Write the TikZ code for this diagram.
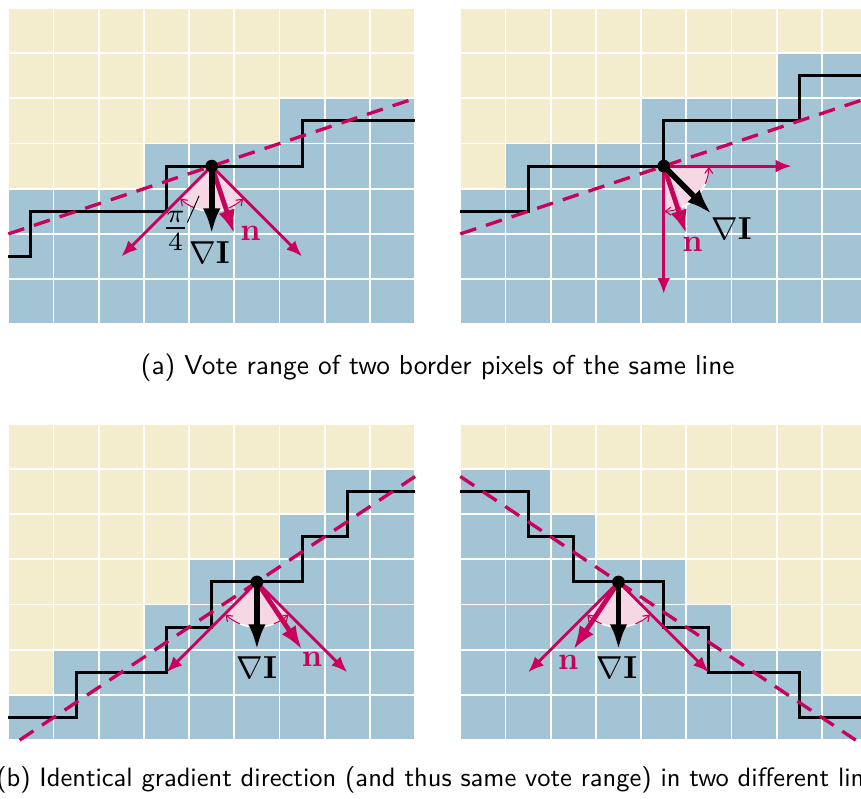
\documentclass[tikz,border=0pt]{standalone}
\usetikzlibrary{arrows.meta,calc}
\definecolor{beige}{RGB}{244,237,205}
\definecolor{pblue}{RGB}{162,196,212}
\definecolor{mag}{RGB}{200,0,90}
\definecolor{fanpink}{RGB}{245,216,227}
\tikzset{
 gridl/.style={draw=white, line width=1.2pt},
 stair/.style={draw=black, line width=1.9pt},
 edgeln/.style={draw=mag, line width=2.1pt, dash pattern=on 10.5pt off 6.5pt},
 vote/.style={draw=mag, line width=1.8pt, -{Latex[length=10pt,width=8pt]}},
 nvec/.style={draw=mag, line width=3pt, -{Latex[length=15pt,width=10.5pt]}},
 gvec/.style={draw=black, line width=3.6pt, -{Latex[length=16pt,width=11pt]}},
 fanfill/.style={fill=fanpink},
 fanarc/.style={draw=white, line width=0.9pt},
 fantip/.style={draw=mag, line width=0.7pt, -{Straight Barb[length=3.5pt,width=5pt]}},
 dotn/.style={circle, fill=black, inner sep=0pt, minimum size=0.28cm},
 lab/.style={scale=2.0, inner sep=0pt},
 fraclab/.style={scale=2.35, inner sep=0pt},
 captxt/.style={scale=1.72, font=\sffamily, inner sep=0pt},
 captxtb/.style={scale=1.67, font=\sffamily, inner sep=0pt},
 leader/.style={draw=black, line width=0.6pt},
}
\newcommand{\votefan}[2]{%
  \fill[fanfill] (#1) -- ($(#1)+(#2-45:1)$) arc[start angle=#2-45, end angle=#2+45, radius=1cm] -- cycle;
  \draw[fanarc] ($(#1)+(#2-45:1)$) arc[start angle=#2-45, end angle=#2+45, radius=1cm];
  \draw[fantip] ($(#1)+(#2-22:1)$) arc[start angle=#2-22, end angle=#2-44, radius=1cm];
  \draw[fantip] ($(#1)+(#2+22:1)$) arc[start angle=#2+22, end angle=#2+44, radius=1cm];
}
\begin{document}
\begin{tikzpicture}
\useasboundingbox (-0.184,-10.502) rectangle (18.865,7.175);
\clip (-0.184,-10.502) rectangle (18.865,7.175);

% ---------- (a) left ----------
\begin{scope}
\fill[pblue] (0,0) rectangle (9,7);
\fill[beige] (0,7) -- (9,7) -- (9,5) -- (6,5) -- (6,4) -- (3,4) -- (3,3) -- (0,3) -- cycle;
\draw[gridl] (0,0) grid (9,7);
\draw[stair] (0,1.5) -- (0.5,1.5) -- (0.5,2.5) -- (3.5,2.5) -- (3.5,3.5) -- (6.5,3.5) -- (6.5,4.5) -- (9,4.5);
\coordinate (aLe1) at (0,2); \coordinate (aLe2) at (9,5);
\draw[edgeln] (aLe1) -- (aLe2);
\coordinate (aLd) at (4.5,3.5);
\votefan{aLd}{-90}
\coordinate (aLv1) at ($(aLd)+(-2,-2)$);
\coordinate (aLv2) at ($(aLd)+(2,-2)$);
\coordinate (aLn) at ($(aLd)+(0.5,-1.5)$);
\coordinate (aLg) at ($(aLd)+(0,-1.5)$);
\draw[vote] (aLd) -- (aLv1);
\draw[vote] (aLd) -- (aLv2);
\draw[nvec] (aLd) -- (aLn);
\draw[gvec] (aLd) -- (aLg);
\node[dotn] (aLdot) at (aLd) {};
\node[lab] (aLgl) at (4.45,1.59) {$\nabla\mathbf{I}$};
\node[lab, text=mag] (aLnl) at (5.36,2.01) {$\mathbf{n}$};
\node[fraclab] (aLpi) at (3.70,2.07) {$\frac{\pi}{4}$};
\coordinate (aLl1) at (4.22,2.84); \coordinate (aLl2) at (3.96,2.25);
\draw[leader] (aLl1) -- (aLl2);
\end{scope}

% ---------- (a) right ----------
\begin{scope}[shift={(10,0)}]
\fill[pblue] (0,0) rectangle (9,7);
\fill[beige] (0,7) -- (9,7) -- (9,6) -- (7,6) -- (7,5) -- (4,5) -- (4,4) -- (1,4) -- (1,3) -- (0,3) -- cycle;
\draw[gridl] (0,0) grid (9,7);
\draw[stair] (0,2.5) -- (1.5,2.5) -- (1.5,3.5) -- (4.5,3.5) -- (4.5,4.5) -- (7.5,4.5) -- (7.5,5.5) -- (9,5.5);
\coordinate (aRe1) at (0,2); \coordinate (aRe2) at (9,5);
\draw[edgeln] (aRe1) -- (aRe2);
\coordinate (aRd) at (4.5,3.5);
\votefan{aRd}{-45}
\coordinate (aRv1) at ($(aRd)+(2.83,0)$);
\coordinate (aRv2) at ($(aRd)+(0,-2.83)$);
\coordinate (aRn) at ($(aRd)+(0.5,-1.5)$);
\coordinate (aRg) at ($(aRd)+(1.06,-1.06)$);
\draw[vote] (aRd) -- (aRv1);
\draw[vote] (aRd) -- (aRv2);
\draw[nvec] (aRd) -- (aRn);
\draw[gvec] (aRd) -- (aRg);
\node[dotn] (aRdot) at (aRd) {};
\node[lab] (aRgl) at (6.0,2.11) {$\nabla\mathbf{I}$};
\node[lab, text=mag] (aRnl) at (5.14,1.76) {$\mathbf{n}$};
\end{scope}

\node[captxt] (capa) at (9.5,-0.967) {(a) Vote range of two border pixels of the same line};

% ---------- (b) left ----------
\begin{scope}[shift={(0,-9.2)}]
\fill[pblue] (0,0) rectangle (9,7);
\fill[beige] (0,7) -- (9,7) -- (9,6) -- (7,6) -- (7,5) -- (6,5) -- (6,4) -- (4,4) -- (4,3) -- (3,3) -- (3,2) -- (1,2) -- (1,1) -- (0,1) -- cycle;
\draw[gridl] (0,0) grid (9,7);
\draw[stair] (0,0.5) -- (1.5,0.5) -- (1.5,1.5) -- (3.5,1.5) -- (3.5,2.5) -- (4.5,2.5) -- (4.5,3.5) -- (6.5,3.5) -- (6.5,4.5) -- (7.5,4.5) -- (7.5,5.5) -- (9,5.5);
\coordinate (bLe1) at (0.25,0); \coordinate (bLe2) at (9,5.833);
\draw[edgeln] (bLe1) -- (bLe2);
\coordinate (bLd) at (5.5,3.5);
\votefan{bLd}{-90}
\coordinate (bLv1) at ($(bLd)+(-2,-2)$);
\coordinate (bLv2) at ($(bLd)+(2,-2)$);
\coordinate (bLn) at ($(bLd)+(1,-1.5)$);
\coordinate (bLg) at ($(bLd)+(0,-1.5)$);
\draw[vote] (bLd) -- (bLv1);
\draw[vote] (bLd) -- (bLv2);
\draw[nvec] (bLd) -- (bLn);
\draw[gvec] (bLd) -- (bLg);
\node[dotn] (bLdot) at (bLd) {};
\node[lab] (bLgl) at (5.5,1.60) {$\nabla\mathbf{I}$};
\node[lab, text=mag] (bLnl) at (6.72,1.79) {$\mathbf{n}$};
\end{scope}

% ---------- (b) right ----------
\begin{scope}[shift={(10,-9.2)}]
\fill[pblue] (0,0) rectangle (9,7);
\fill[beige] (0,7) -- (9,7) -- (9,1) -- (8,1) -- (8,2) -- (6,2) -- (6,3) -- (5,3) -- (5,4) -- (3,4) -- (3,5) -- (2,5) -- (2,6) -- (0,6) -- cycle;
\draw[gridl] (0,0) grid (9,7);
\draw[stair] (0,5.5) -- (1.5,5.5) -- (1.5,4.5) -- (2.5,4.5) -- (2.5,3.5) -- (4.5,3.5) -- (4.5,2.5) -- (5.5,2.5) -- (5.5,1.5) -- (7.5,1.5) -- (7.5,0.5) -- (9,0.5);
\coordinate (bRe1) at (0,5.833); \coordinate (bRe2) at (8.75,0);
\draw[edgeln] (bRe1) -- (bRe2);
\coordinate (bRd) at (3.5,3.5);
\votefan{bRd}{-90}
\coordinate (bRv1) at ($(bRd)+(-2,-2)$);
\coordinate (bRv2) at ($(bRd)+(2,-2)$);
\coordinate (bRn) at ($(bRd)+(-1,-1.5)$);
\coordinate (bRg) at ($(bRd)+(0,-1.5)$);
\draw[vote] (bRd) -- (bRv1);
\draw[vote] (bRd) -- (bRv2);
\draw[nvec] (bRd) -- (bRn);
\draw[gvec] (bRd) -- (bRg);
\node[dotn] (bRdot) at (bRd) {};
\node[lab] (bRgl) at (3.47,1.60) {$\nabla\mathbf{I}$};
\node[lab, text=mag] (bRnl) at (2.39,1.71) {$\mathbf{n}$};
\end{scope}

\node[captxtb] (capb) at (9.58,-10.08) {(b) Identical gradient direction (and thus same vote range) in two different lines};
\end{tikzpicture}
\end{document}
